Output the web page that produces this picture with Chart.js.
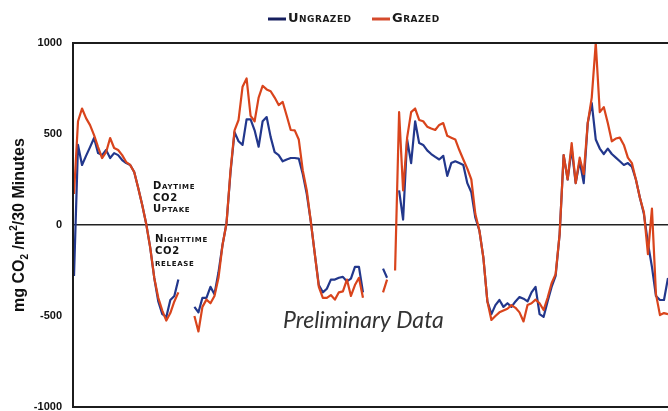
<!DOCTYPE html>
<html lang="en">
<head>
<meta charset="UTF-8" />
<title>CO2 flux · grazed vs ungrazed</title>
<script src="https://cdn.jsdelivr.net/npm/chart.js"></script>
<style>
  html, body { margin: 0; padding: 0; background: #fff; overflow: hidden; }
  canvas { display: block; }
</style>
</head>
<body>
<canvas id="flux" width="668" height="411"></canvas>
<script>
// half-hourly CO2 flux, mg CO2 / m2 / 30 min (null = no data)
const ungrazed = [
  -280, 440, 330, 380, 428, 478, 395, 384, 412, 368,
   395, 384, 357, 340, 330, 291, 203, 110,   5, -126,
  -291, -420, -490, -505, -412, -390, -300, null, null, null,
  -450, -480, -400, -400, -340, -380, -260, -110,  10, 290,
   510, 460, 440, 580, 580, 520, 430, 570, 593, 483,
   400, 384, 350, 360, 368, 368, 365, 280, 170,  20,
  -160, -330, -370, -350, -300, -300, -290, -285, -310, -295,
  -230, -230, -370, null, null, null, null, -240, -290, null,
  null, 190,  30, 470, 340, 570, 450, 440, 410, 390,
   374, 360, 380, 270, 340, 350, 340, 330, 230, 180,
    40, -30, -180, -420, -490, -440, -412, -450, -430, -450,
  -420, -396, -405, -420, -370, -340, -490, -505, -420, -340,
  -280, -50, 384, 250, 420, 230, 350, 230, 560, 670,
   470, 420, 390, 420, 390, 370, 350, 330, 340, 320,
   250, 150,  60, -100, -230, -390, -412, -412, -291
];
const grazed = [
   170, 570, 640, 587, 549, 494, 428, 368, 400, 478,
   423, 412, 384, 346, 330, 291, 203, 110,   5, -126,
  -291, -400, -470, -525, -484, -420, -370, null, null, null,
  -500, -585, -450, -410, -430, -390, -290, -110,  10, 300,
   520, 577, 760, 805, 600, 570, 700, 765, 745, 735,
   700, 659, 676, 600, 522, 520, 470, 300, 190,  20,
  -160, -340, -400, -400, -385, -410, -370, -365, -300, -390,
  -330, -290, -400, null, null, null, null, -370, -300, null,
  -250, 620, 190, 480, 620, 640, 577, 570, 540, 530,
   522, 550, 560, 490, 480, 470, 412, 360, 310, 250,
    60, -30, -180, -420, -522, -500, -480, -470, -460, -440,
  -455, -480, -530, -440, -430, -410, -430, -467, -400, -320,
  -270, -50, 384, 250, 450, 230, 370, 280, 560, 700,
  1000, 620, 648, 560, 460, 475, 480, 440, 370, 340,
   250, 150,  70, -160,  90, -380, -495, -484, -490
];
const seriesNames = ['Ungrazed', 'Grazed'];
const seriesColors = ['#22378c', '#d9441c'];
const legendColors = ['#161f5e', '#d54a2c'];
const yTicks = [-1000, -500, 0, 500, 1000];
const steps = ungrazed.map((_, i) => i);

const decor = {
  id: 'decor',
  afterDraw(chart) {
    const { ctx, chartArea: a } = chart;
    ctx.save();

    // frame (right side runs off the page)
    ctx.strokeStyle = '#1c1c1c';
    ctx.lineWidth = 2;
    ctx.beginPath();
    ctx.moveTo(a.right + 2, a.top);
    ctx.lineTo(a.left - 1, a.top);
    ctx.lineTo(a.left - 1, a.bottom);
    ctx.lineTo(a.right + 2, a.bottom);
    ctx.stroke();

    // y axis title with sub/superscript
    const big = 'bold 16px "Liberation Sans"';
    const small = 'bold 10px "Liberation Sans"';
    const parts = [['mg CO', big, 0], ['2', small, 5], [' /m', big, 0], ['2', small, -6], ['/30 Minutes', big, 0]];
    let total = 0;
    parts.forEach(p => { ctx.font = p[1]; total += ctx.measureText(p[0]).width; });
    ctx.translate(20, (a.top + a.bottom) / 2);
    ctx.rotate(-Math.PI / 2);
    ctx.fillStyle = '#111';
    ctx.textBaseline = 'middle';
    let x = -total / 2;
    parts.forEach(p => {
      ctx.font = p[1];
      ctx.fillText(p[0], x, p[2]);
      x += ctx.measureText(p[0]).width;
    });
    ctx.setTransform(1, 0, 0, 1, 0, 0);

    // legend
    ctx.font = 'small-caps bold 13px "DejaVu Sans"';
    ctx.letterSpacing = '0.5px';
    ctx.textBaseline = 'middle';
    const legendX = [268, 372];
    seriesNames.forEach((name, i) => {
      ctx.strokeStyle = legendColors[i];
      ctx.lineWidth = 3;
      ctx.beginPath();
      ctx.moveTo(legendX[i], 19);
      ctx.lineTo(legendX[i] + 18, 19);
      ctx.stroke();
      ctx.fillStyle = '#1a1a1a';
      ctx.fillText(name, legendX[i] + 20, 19);
    });

    // notes
    ctx.font = 'small-caps bold 10px "DejaVu Sans"';
    ctx.letterSpacing = '0.7px';
    ctx.fillStyle = '#111';
    ctx.textBaseline = 'alphabetic';
    ['Daytime', 'CO2', 'Uptake'].forEach((t, i) => ctx.fillText(t, 153, 189 + i * 11.5));
    ['Nighttime', 'CO2', 'release'].forEach((t, i) => ctx.fillText(t, 155, 242 + i * 12));

    ctx.letterSpacing = '0px';
    ctx.font = 'italic 23px Lato';
    ctx.fillStyle = '#333';
    ctx.fillText('Preliminary Data', 283, 328);
    ctx.restore();
  }
};

new Chart(document.getElementById('flux'), {
  type: 'line',
  data: {
    labels: steps,
    datasets: [
      { label: seriesNames[0], data: ungrazed, borderColor: seriesColors[0], order: 1 },
      { label: seriesNames[1], data: grazed, borderColor: seriesColors[1], order: 0 }
    ]
  },
  options: {
    responsive: false,
    animation: false,
    devicePixelRatio: 1,
    layout: { padding: { top: 43, bottom: 4, left: 0, right: 0 } },
    elements: {
      line: { borderWidth: 2.2, tension: 0, borderJoinStyle: 'round' },
      point: { radius: 0 }
    },
    spanGaps: false,
    plugins: { legend: { display: false }, tooltip: { enabled: false } },
    scales: {
      x: { type: 'category', display: false, offset: false },
      y: {
        min: -1000,
        max: 1000,
        afterBuildTicks: s => { s.ticks = yTicks.map(v => ({ value: v })); },
        afterFit: s => { s.width = 74; s.paddingTop = 0; s.paddingBottom = 0; },
        border: { display: false },
        grid: {
          drawTicks: false,
          lineWidth: 1.5,
          color: c => (c.tick && c.tick.value === 0 ? '#222' : 'rgba(0,0,0,0)')
        },
        ticks: {
          padding: 12,
          color: '#111',
          callback: v => String(v),
          font: { family: '"Liberation Sans"', weight: 'bold', size: 11 }
        }
      }
    }
  },
  plugins: [decor]
});
</script>
</body>
</html>
